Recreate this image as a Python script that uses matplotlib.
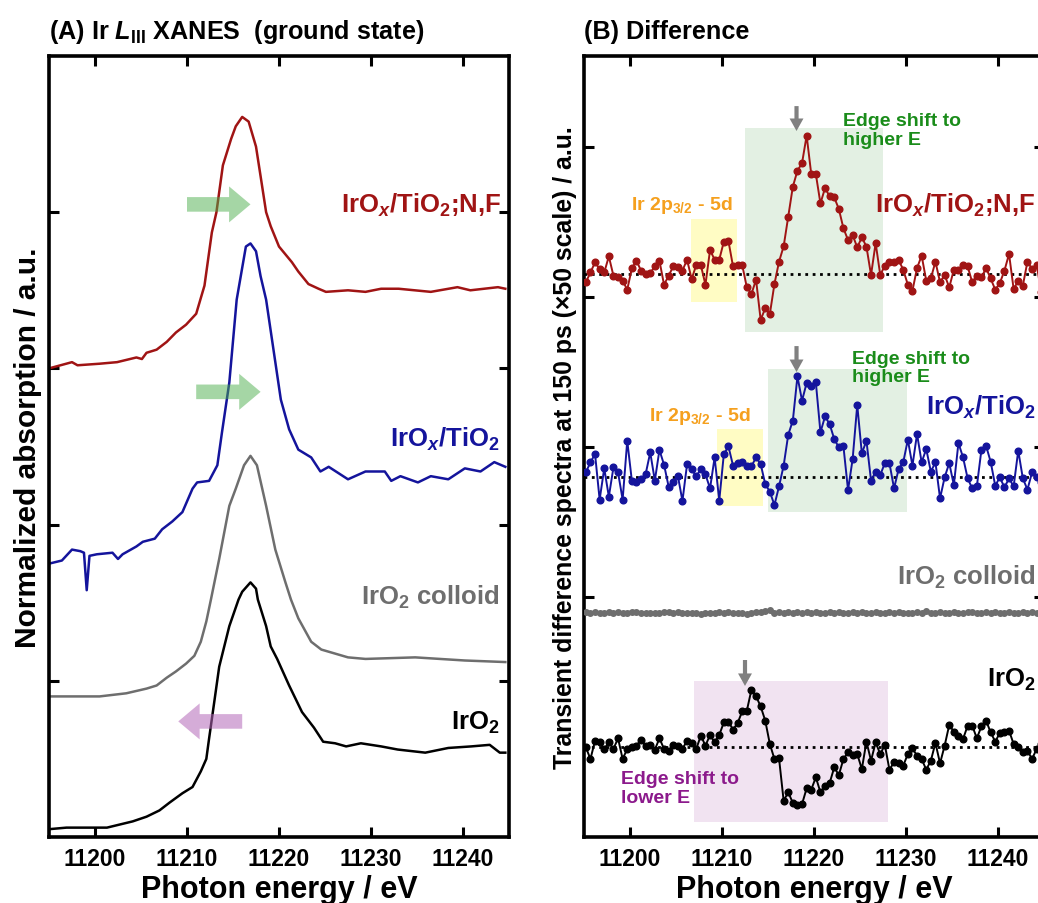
import numpy as np
import matplotlib
matplotlib.use('Agg')
import matplotlib.pyplot as plt
from matplotlib.patches import Rectangle

plt.rcParams['font.family'] = ['Liberation Sans', 'DejaVu Sans']
plt.rcParams['font.weight'] = 'bold'
plt.rcParams['mathtext.fontset'] = 'custom'
plt.rcParams['mathtext.rm'] = 'Liberation Sans:bold'
plt.rcParams['mathtext.bf'] = 'Liberation Sans:bold'
plt.rcParams['mathtext.sf'] = 'Liberation Sans:bold'
plt.rcParams['mathtext.it'] = 'Liberation Sans:italic:bold'

# ---- (A) ground state XANES, offset spectra ----
e_nf = [11195.0, 11197.5, 11198.1, 11200.5, 11202.4, 11204.5, 11205.1, 11205.6, 11206.7, 11207.8,
        11208.8, 11209.9, 11211.0, 11211.4, 11211.9, 11212.7, 11213.2, 11213.9, 11214.8, 11215.3,
        11216.0, 11216.7, 11217.5, 11218.0, 11218.6, 11219.1, 11220.0, 11221.4, 11222.1, 11223.2,
        11224.3, 11225.1, 11227.5, 11229.4, 11231.1, 11233.0, 11236.5, 11239.4, 11240.8, 11243.8, 11244.6]
xanes_nf = [3.00, 3.04, 3.02, 3.03, 3.04, 3.07, 3.06, 3.10, 3.12, 3.17,
            3.23, 3.28, 3.35, 3.43, 3.53, 3.87, 4.00, 4.30, 4.47, 4.55,
            4.61, 4.58, 4.42, 4.23, 4.00, 3.91, 3.78, 3.68, 3.62, 3.54,
            3.51, 3.49, 3.50, 3.49, 3.51, 3.51, 3.49, 3.52, 3.50, 3.52, 3.51]

e_tio2 = [11195.0, 11196.4, 11197.5, 11198.4, 11198.8, 11199.1, 11199.4, 11200.2, 11201.9, 11202.5,
          11203.0, 11204.5, 11205.2, 11206.5, 11207.3, 11208.4, 11209.5, 11210.6, 11211.1, 11212.4,
          11213.3, 11213.8, 11214.6, 11215.4, 11216.4, 11216.9, 11217.5, 11218.0, 11218.6, 11219.4,
          11220.2, 11221.1, 11222.1, 11223.5, 11224.5, 11225.4, 11227.5, 11229.4, 11231.5, 11232.2,
          11233.2, 11235.1, 11236.5, 11238.4, 11240.2, 11241.9, 11243.4, 11244.6]
xanes_tio2 = [1.75, 1.77, 1.84, 1.83, 1.82, 1.58, 1.80, 1.81, 1.82, 1.78,
              1.81, 1.86, 1.89, 1.91, 1.97, 2.02, 2.08, 2.23, 2.27, 2.28,
              2.38, 2.59, 2.91, 3.44, 3.78, 3.80, 3.75, 3.59, 3.44, 3.12,
              2.80, 2.61, 2.48, 2.43, 2.34, 2.37, 2.29, 2.34, 2.34, 2.28,
              2.31, 2.27, 2.31, 2.29, 2.36, 2.34, 2.40, 2.37]

e_coll = [11195.0, 11197.3, 11200.5, 11203.4, 11205.6, 11206.7, 11207.8, 11208.8, 11209.9, 11210.8,
          11211.5, 11212.1, 11212.6, 11213.5, 11214.6, 11215.3, 11216.2, 11216.9, 11217.6, 11218.6,
          11219.6, 11220.7, 11221.3, 11222.1, 11223.5, 11224.6, 11227.5, 11229.4, 11234.8, 11240.2, 11244.6]
xanes_coll = [0.90, 0.90, 0.90, 0.92, 0.95, 0.97, 1.02, 1.06, 1.11, 1.16,
              1.25, 1.38, 1.52, 1.78, 2.12, 2.23, 2.38, 2.44, 2.38, 2.12,
              1.84, 1.63, 1.52, 1.40, 1.25, 1.20, 1.15, 1.14, 1.15, 1.13, 1.12]

e_iro2 = [11195.0, 11196.9, 11199.8, 11201.3, 11202.7, 11204.1, 11205.6, 11207.0, 11208.1, 11209.5,
          11210.6, 11211.5, 11212.1, 11212.4, 11213.0, 11213.5, 11214.6, 11215.6, 11216.0, 11216.9,
          11217.5, 11217.7, 11218.6, 11219.1, 11219.8, 11221.1, 11222.5, 11223.8, 11224.8, 11226.1,
          11227.3, 11228.9, 11231.1, 11232.9, 11235.9, 11238.4, 11240.9, 11242.9, 11244.0, 11244.6]
xanes_iro2 = [0.05, 0.06, 0.06, 0.06, 0.08, 0.10, 0.13, 0.17, 0.22, 0.28,
              0.32, 0.42, 0.50, 0.63, 0.88, 1.09, 1.35, 1.52, 1.57, 1.63,
              1.59, 1.52, 1.35, 1.22, 1.14, 0.97, 0.80, 0.70, 0.61, 0.60,
              0.58, 0.60, 0.58, 0.56, 0.54, 0.57, 0.58, 0.59, 0.54, 0.54]

# ---- (B) transient difference spectra (x50), 0.5 eV grid, offset ----
e_start, e_step = 11195.2, 0.5
diff_nf = [2.098, 2.164, 2.231, 2.187, 2.164, 2.271, 2.142, 2.131, 2.109, 2.049,
           2.191, 2.242, 2.176, 2.153, 2.160, 2.204, 2.242, 2.082, 2.142, 2.204,
           2.198, 2.176, 2.249, 2.120, 2.213, 2.213, 2.082, 2.313, 2.249, 2.249,
           2.369, 2.373, 2.204, 2.213, 2.213, 2.064, 2.020, 2.116, 1.849, 1.924,
           1.887, 2.087, 2.236, 2.338, 2.536, 2.736, 2.842, 2.893, 3.076, 2.820,
           2.820, 2.624, 2.727, 2.671, 2.664, 2.587, 2.458, 2.380, 2.413, 2.331,
           2.398, 2.336, 2.147, 2.360, 2.147, 2.209, 2.236, 2.236, 2.247, 2.182,
           2.082, 2.042, 2.193, 2.276, 2.109, 2.124, 2.236, 2.098, 2.147, 2.064,
           2.182, 2.182, 2.216, 2.204, 2.098, 2.142, 2.131, 2.193, 2.124, 2.049,
           2.093, 2.176, 2.287, 2.053, 2.109, 2.076, 2.236, 2.187, 2.216, 2.031]
diff_tio2 = [0.831, 0.898, 0.953, 0.649, 0.858, 0.669, 0.864, 0.831, 0.649, 1.042,
             0.776, 0.764, 0.787, 0.820, 0.964, 0.776, 0.980, 0.882, 0.736, 0.769,
             0.809, 0.640, 0.884, 0.853, 0.804, 0.853, 0.818, 0.724, 0.931, 0.642,
             0.953, 1.004, 0.876, 0.893, 0.898, 0.871, 0.871, 0.931, 0.887, 0.753,
             0.702, 0.613, 0.738, 0.876, 1.082, 1.176, 1.471, 1.309, 1.427, 1.404,
             1.431, 1.098, 1.204, 1.153, 1.053, 0.998, 1.004, 0.713, 0.920, 1.280,
             0.958, 1.042, 0.776, 0.836, 0.813, 0.893, 0.893, 0.724, 0.853, 0.898,
             1.049, 0.876, 1.087, 0.898, 0.987, 0.836, 0.898, 0.658, 0.798, 0.893,
             0.747, 1.027, 0.931, 0.791, 0.724, 0.738, 0.982, 1.009, 0.902, 0.742,
             0.798, 0.731, 0.791, 0.738, 0.976, 0.791, 0.716, 0.831, 0.800, 0.770]
diff_coll = [-0.100, -0.108, -0.102, -0.104, -0.108, -0.101, -0.104, -0.100, -0.108, -0.104,
             -0.097, -0.101, -0.108, -0.104, -0.106, -0.108, -0.104, -0.100, -0.097, -0.104,
             -0.101, -0.108, -0.104, -0.104, -0.108, -0.112, -0.106, -0.104, -0.109, -0.101,
             -0.108, -0.100, -0.108, -0.104, -0.108, -0.114, -0.104, -0.097, -0.101, -0.093,
             -0.088, -0.104, -0.099, -0.108, -0.100, -0.104, -0.101, -0.108, -0.102, -0.106,
             -0.100, -0.104, -0.108, -0.101, -0.106, -0.100, -0.104, -0.108, -0.102, -0.104,
             -0.100, -0.108, -0.104, -0.101, -0.106, -0.108, -0.101, -0.104, -0.100, -0.106,
             -0.104, -0.108, -0.100, -0.104, -0.094, -0.104, -0.108, -0.101, -0.104, -0.106,
             -0.100, -0.104, -0.108, -0.101, -0.097, -0.104, -0.108, -0.102, -0.104, -0.100,
             -0.106, -0.104, -0.097, -0.104, -0.108, -0.101, -0.104, -0.100, -0.104, -0.102]
diff_iro2 = [-1.002, -1.080, -0.958, -0.964, -1.013, -0.969, -1.013, -0.942, -1.080, -1.013,
             -1.002, -0.991, -0.951, -0.996, -0.987, -1.018, -0.942, -1.013, -1.024, -0.987,
             -0.996, -1.013, -0.958, -0.973, -1.013, -0.924, -0.991, -0.920, -0.969, -0.920,
             -0.836, -0.831, -0.884, -0.840, -0.762, -0.758, -0.618, -0.662, -0.729, -0.824,
             -0.980, -1.080, -1.076, -1.358, -1.302, -1.373, -1.387, -1.380, -1.276, -1.284,
             -1.202, -1.302, -1.258, -1.240, -1.136, -1.187, -1.080, -1.036, -1.053, -1.047,
             -1.147, -0.964, -1.091, -0.969, -1.047, -0.987, -1.151, -1.102, -1.107, -1.124,
             -1.047, -1.009, -1.058, -1.080, -1.151, -1.091, -0.973, -1.109, -0.991, -0.853,
             -0.898, -0.929, -0.947, -0.858, -0.858, -0.942, -0.862, -0.824, -0.902, -0.964,
             -0.907, -0.902, -0.891, -0.980, -1.002, -1.036, -1.024, -1.080, -1.013, -0.980]
base_nf, base_tio2, base_iro2 = 2.153, 0.80, -1.0

c_red, c_blue, c_gray, c_black = '#a01414', '#14149c', '#6e6e6e', 'black'
c_green_txt, c_orange, c_purple = '#1a8c1a', '#f5a01e', '#8c1a8c'

fig = plt.figure(figsize=(10.38, 9.04), dpi=100)
axA = fig.add_axes([49 / 1038, 66 / 904, 460 / 1038, 781 / 904])
axB = fig.add_axes([584 / 1038, 66 / 904, 460 / 1038, 781 / 904])


def style(ax):
    ax.set_xlim(11195, 11245)
    ax.set_xticks([11200, 11210, 11220, 11230, 11240])
    ax.tick_params(direction='in', top=True, right=True, length=7, width=2.2,
                   labelsize=16.5, pad=7)
    ax.tick_params(axis='y', labelleft=False)
    for s in ax.spines.values():
        s.set_linewidth(2.6)
    ax.set_xlabel('Photon energy / eV', fontsize=22, fontweight='bold', labelpad=3)


def block_arrow(ax, x0, x1, y, color, alpha):
    ax.annotate('', xy=(x1, y), xytext=(x0, y),
                arrowprops=dict(arrowstyle='simple,head_length=1.1,head_width=1.85,tail_width=0.75',
                                mutation_scale=14, color=color, alpha=alpha, lw=0,
                                shrinkA=0, shrinkB=0))


def down_arrow(ax, x, y0, y1):
    ax.annotate('', xy=(x, y1), xytext=(x, y0),
                arrowprops=dict(arrowstyle='simple,head_length=0.9,head_width=1.0,tail_width=0.3',
                                mutation_scale=10, color='#808080', lw=0,
                                shrinkA=0, shrinkB=0))


# ---------------- panel A ----------------
style(axA)
axA.set_ylim(0, 5)
axA.set_yticks([1, 2, 3, 4])
axA.plot(e_nf, xanes_nf, color=c_red, lw=1.8)
axA.plot(e_tio2, xanes_tio2, color=c_blue, lw=1.8)
axA.plot(e_coll, xanes_coll, color=c_gray, lw=1.8)
axA.plot(e_iro2, xanes_iro2, color=c_black, lw=1.8)

block_arrow(axA, 11210.0, 11216.9, 4.05, '#4cae4c', 0.5)
block_arrow(axA, 11211.0, 11218.0, 2.85, '#4cae4c', 0.5)
block_arrow(axA, 11216.0, 11209.05, 0.74, '#b468b8', 0.55)

kw = dict(ha='right', va='center', fontsize=18.5, fontweight='bold')
axA.text(11244.2, 4.05, r'IrO$_x$/TiO$_2$;N,F', color=c_red, **kw)
axA.text(11244.0, 2.55, r'IrO$_x$/TiO$_2$', color=c_blue, **kw)
axA.text(11244.0, 1.54, r'IrO$_2$ colloid', color=c_gray, **kw)
axA.text(11244.0, 0.74, r'IrO$_2$', color=c_black, **kw)

axA.set_ylabel('Normalized absorption / a.u.', fontsize=21.5, fontweight='bold', labelpad=5)
axA.set_title(r'(A) Ir $L_{\mathrm{III}}$ XANES  (ground state)', loc='left',
              fontsize=18.2, fontweight='bold', pad=13)

# ---------------- panel B ----------------
style(axB)
axB.set_ylim(-1.6, 3.607)
axB.set_yticks([0, 1, 2, 3])

e_b = e_start + e_step * np.arange(len(diff_nf))

boxes = [(11206.65, 11211.66, 1.967, 2.52, '#fffcc4'),
         (11212.53, 11227.47, 1.767, 3.127, '#e3f0e3'),
         (11209.48, 11214.50, 0.607, 1.12, '#fffcc4'),
         (11215.04, 11230.08, 0.567, 1.52, '#e3f0e3'),
         (11206.98, 11228.01, -1.50, -0.56, '#f1e3f1')]
for x0, x1, y0, y1, fc in boxes:
    axB.add_patch(Rectangle((x0, y0), x1 - x0, y1 - y0, facecolor=fc, edgecolor='none', zorder=0))

for b in (base_nf, base_tio2, base_iro2):
    axB.axhline(b, color='black', ls=':', lw=2.0, zorder=1)

mk = dict(marker='o', markersize=4.8, lw=1.4, zorder=3)
axB.plot(e_b, diff_nf, color=c_red, **mk)
axB.plot(e_b, diff_tio2, color=c_blue, **mk)
axB.plot(e_b, diff_coll, color=c_gray, marker='o', markersize=4, lw=2.0, zorder=3)
axB.plot(e_b, diff_iro2, color=c_black, **mk)

down_arrow(axB, 11218.1, 3.273, 3.107)
down_arrow(axB, 11218.1, 1.673, 1.50)
down_arrow(axB, 11212.5, -0.42, -0.593)

tk = dict(fontsize=14, fontweight='bold', va='center', ha='left', linespacing=1.1)
axB.text(11223.1, 3.113, 'Edge shift to\nhigher E', color=c_green_txt, **tk)
axB.text(11224.1, 1.530, 'Edge shift to\nhigher E', color=c_green_txt, **tk)
axB.text(11199.0, -1.273, 'Edge shift to\nlower E', color=c_purple, **tk)
axB.text(11200.1, 2.62, r'Ir 2p$_{3/2}$ - 5d', color=c_orange, **tk)
axB.text(11202.1, 1.207, r'Ir 2p$_{3/2}$ - 5d', color=c_orange, **tk)

axB.text(11244.1, 2.62, r'IrO$_x$/TiO$_2$;N,F', color=c_red, **kw)
axB.text(11244.1, 1.273, r'IrO$_x$/TiO$_2$', color=c_blue, **kw)
axB.text(11244.1, 0.14, r'IrO$_2$ colloid', color=c_gray, **kw)
axB.text(11244.1, -0.547, r'IrO$_2$', color=c_black, **kw)

axB.set_ylabel('Transient difference spectra at 150 ps (×50 scale) / a.u.',
               fontsize=17.9, fontweight='bold', labelpad=5)
axB.set_title('(B) Difference', loc='left', fontsize=18.2, fontweight='bold', pad=13)

fig.savefig('out.png', dpi=100)
